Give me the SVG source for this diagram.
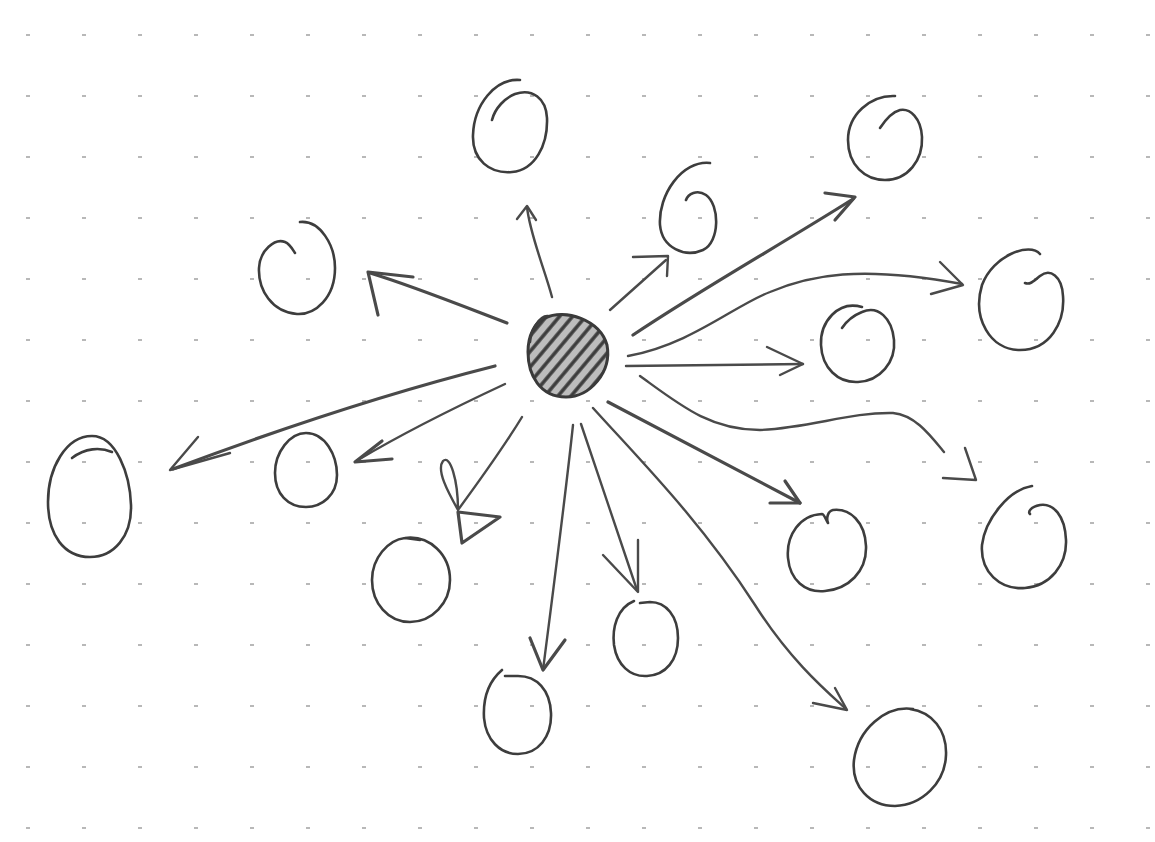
<svg xmlns="http://www.w3.org/2000/svg" width="1155" height="842" viewBox="0 0 1155 842">
<defs>
<pattern id="dots" x="0" y="0" width="56" height="61" patternUnits="userSpaceOnUse" patternTransform="translate(28 35)">
<rect x="-2" y="-1" width="4" height="2" fill="#b8b8b8"/>
<rect x="54" y="-1" width="4" height="2" fill="#b8b8b8"/>
<rect x="-2" y="60" width="4" height="2" fill="#b8b8b8"/>
<rect x="54" y="60" width="4" height="2" fill="#b8b8b8"/>
</pattern>
<pattern id="hatch" width="10" height="10" patternUnits="userSpaceOnUse" patternTransform="rotate(40)">
<rect width="10" height="10" fill="#bdbdbd"/>
<line x1="2" y1="0" x2="2" y2="10" stroke="#3c3c3c" stroke-width="3.5"/>
</pattern>
</defs>
<style>
.n{fill:none;stroke:#3d3d3d;stroke-width:2.6;stroke-linecap:round;stroke-linejoin:round}
.c{fill:none;stroke:#4a4a4a;stroke-width:2.4;stroke-linecap:round;stroke-linejoin:round}
.t{stroke-width:3.2}
</style>
<rect width="1155" height="842" fill="#fff"/>
<rect x="0" y="0" width="1155" height="842" fill="url(#dots)"/>

<g id="connectors">
<path class="c" d="M552,297 C545,270 530,235 527,207"/>
<path class="c" d="M517,219 L527,206 L536,220"/>
<path class="c" d="M610,310 L666,260"/>
<path class="c" d="M633,257 L668,256 L667,276"/>
<path class="c t" d="M633,335 C700,290 780,245 853,199"/>
<path class="c t" d="M825,193 L855,197 L835,220"/>
<path class="c" d="M628,356 C690,345 735,305 770,292 C810,275 860,265 962,284"/>
<path class="c" d="M940,262 L963,285 L931,294"/>
<path class="c" d="M626,366 L803,364"/>
<path class="c" d="M767,347 L803,364 L780,375"/>
<path class="c" d="M640,376 C680,405 710,430 760,430 C810,428 850,412 893,413 C915,415 930,435 944,452"/>
<path class="c" d="M965,448 L976,480 L943,478"/>
<path class="c t" d="M608,402 L800,503"/>
<path class="c t" d="M785,481 L800,503 L770,503"/>
<path class="c" d="M593,408 C640,460 700,520 755,605 C790,660 825,690 846,709"/>
<path class="c" d="M835,688 L847,710 L813,703"/>
<path class="c" d="M581,424 C600,480 620,540 637,590"/>
<path class="c" d="M603,555 L638,592 L638,540"/>
<path class="c" d="M573,425 C565,500 552,600 543,670"/>
<path class="c t" d="M530,638 L543,670 L565,640"/>
<path class="c" d="M522,417 C505,445 480,480 458,510 C448,492 436,470 443,461 C450,454 458,480 458,510"/>
<path class="c t" d="M458,512 L500,517 L462,543 Z"/>
<path class="c" d="M505,384 C460,405 400,435 358,460"/>
<path class="c t" d="M382,441 L355,462 L392,459"/>
<path class="c t" d="M495,366 C400,390 290,425 173,469"/>
<path class="c" d="M198,437 L170,470 L230,453"/>
<path class="c t" d="M507,323 C460,305 410,285 370,273"/>
<path class="c t" d="M413,277 L368,272 L378,315"/>
</g>

<g id="center">
<path d="M545,318 C565,308 600,320 607,345 C612,372 590,397 566,397 C540,397 528,375 528,352 C528,335 535,322 545,318 Z" fill="url(#hatch)" stroke="#3a3a3a" stroke-width="3"/>
<path class="n" d="M548,316 C540,315 531,330 530,342"/>
</g>

<g id="node-top">
<path class="n" d="M520,80 C495,78 474,105 473,135 C472,160 490,174 512,172 C535,170 548,145 547,118 C546,98 532,88 515,94 C505,98 495,108 492,120"/>
</g>
<g id="node-near-top-right">
<path class="n" d="M710,163 C682,160 658,195 660,225 C662,248 685,258 703,250 C720,242 720,205 706,195 C697,189 688,194 686,200"/>
</g>
<g id="node-far-top-right">
<path class="n" d="M895,96 C870,95 848,115 848,140 C848,165 865,180 885,180 C908,180 923,160 922,137 C921,118 910,108 900,110 C892,112 884,122 880,128"/>
</g>
<g id="node-left-upper">
<path class="n" d="M300,222 C320,220 335,245 335,268 C335,298 315,315 297,314 C272,312 258,290 259,268 C260,250 275,238 285,242 C290,244 293,250 295,253"/>
</g>
<g id="node-right">
<path class="n" d="M1040,254 C1030,242 993,255 982,285 C972,318 990,350 1020,350 C1050,350 1065,322 1063,296 C1062,276 1050,268 1040,276 C1034,281 1030,285 1025,283"/>
</g>
<g id="node-right-middle">
<path class="n" d="M862,307 C838,300 820,322 821,345 C822,368 838,383 858,382 C880,381 896,362 894,340 C892,318 878,305 862,312 C852,316 846,322 842,328"/>
</g>
<g id="node-far-left">
<path class="n" d="M92,436 C116,436 130,474 131,505 C132,536 114,557 90,557 C64,557 48,535 48,502 C48,468 66,436 92,436"/>
<path class="n" d="M72,458 C85,448 100,447 112,452"/>
</g>
<g id="node-left-middle">
<path class="n" d="M306,433 C325,433 337,455 337,475 C337,495 322,507 306,507 C288,507 275,494 275,473 C275,452 290,433 306,433"/>
</g>
<g id="node-lower-left">
<path class="n" d="M405,538 C430,535 450,555 450,580 C450,603 432,622 410,622 C388,622 372,603 372,580 C372,558 388,540 405,538 L420,540"/>
</g>
<g id="node-bottom">
<path class="n" d="M502,670 C488,682 483,700 484,718 C486,740 500,754 518,754 C538,754 552,737 551,713 C550,690 537,676 518,676 L505,676"/>
</g>
<g id="node-bottom-middle">
<path class="n" d="M634,601 C617,608 612,628 614,645 C617,665 630,677 647,676 C666,675 678,660 678,638 C678,616 666,602 650,602 L640,603"/>
</g>
<g id="node-right-lower">
<path class="n" d="M822,514 C800,515 786,535 788,558 C790,580 805,593 825,591 C848,589 867,572 866,546 C865,522 850,508 833,510 C828,511 826,518 828,523 C825,518 824,514 822,514"/>
</g>
<g id="node-far-right-lower">
<path class="n" d="M1032,486 C1008,490 985,520 982,545 C980,572 1000,590 1025,588 C1050,586 1067,565 1066,540 C1065,515 1053,503 1040,505 C1030,507 1028,512 1030,514"/>
</g>
<g id="node-bottom-right">
<path class="n" d="M913,709 C885,705 858,730 854,760 C851,787 870,806 895,806 C922,805 945,783 946,755 C947,730 932,712 910,709"/>
</g>
</svg>
